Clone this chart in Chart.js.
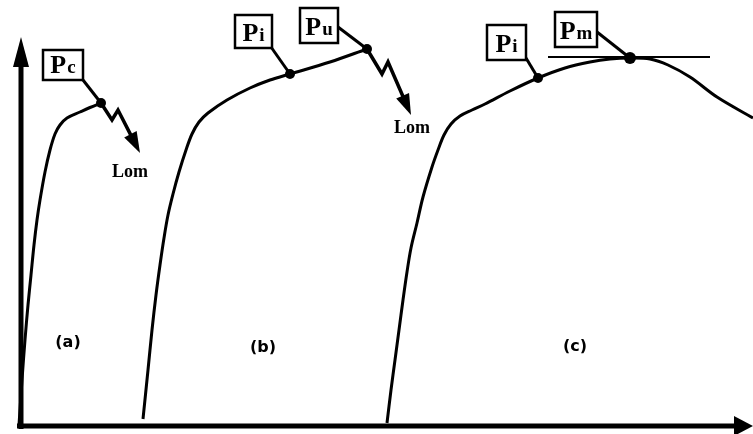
<!DOCTYPE html>
<html>
<head>
<meta charset="utf-8">
<script src="https://cdn.jsdelivr.net/npm/chart.js@4.4.0/dist/chart.umd.min.js"></script>
<style>
  html, body { margin: 0; padding: 0; background: #fff; }
  canvas { display: block; }
</style>
</head>
<body>
<canvas id="myChart" width="753" height="434"></canvas>
<script>
// load / displacement curves, [displacement, load]
var curveA = [[-2,1],[1,46],[4,86],[7,121],[10,151],[13,181],[16,206],[19,226],[24,254],[29,276],[34,292],[39,301],[46,308],[59,314],[69,318.5],[80,323]]
var curveB = [[122,7],[127,56],[131,96],[135,131],[139,161],[143,188],[147,211],[152,232],[158,254],[165,276],[171,292],[178,304],[187,313],[206,326],[229,338],[249,346],[269,352],[309,364],[346,377]]
var curveC = [[366,3],[370,36],[374,66],[378,96],[382,126],[386,154],[390,178],[396,203],[402,229],[411,259],[417,276],[423,291],[430,302],[439,310],[451,316],[464,322],[489,335],[517,348],[544,358],[569,364],[589,367],[609,368],[629,367],[647,361],[669,349],[696,329],[732,308]]

// characteristic loads
var markerSub = ['c', 'i', 'u', 'i', 'm']
var markerX = [80, 269, 346, 517, 609]
var markerY = [323, 352, 377, 348, 368]

// horizontal tangent at the maximum load
var tangentX = [527, 689]
var tangentY = [369, 369]

// curve names
var curveNames = ['(a)', '(b)', '(c)']
var curveNameX = [47, 242, 554]
var curveNameY = [83, 78, 79]

var axisEnd = { x: 732, y: 389 }

// label boxes, pixels relative to the marker: [left, top, width, height, leaderX, leaderY]
var boxes = [
      [-58, -53, 40, 30, -18, -23],
      [-55, -59, 37, 33, -19, -27],
      [-67, -41, 38, 35, -29, -22],
      [-51, -53, 39, 35, -12, -20],
      [-75, -46, 42, 35, -33, -26]
]
// zigzag arrows "Lom" from markers 0 and 2, pixel offsets; last point is the tip
var zigzags = [
      { from: 0, pts: [[11, 17], [17, 7], [39, 50]], text: [29, 69] },
      { from: 2, pts: [[15, 25], [21, 13], [44, 66]], text: [45, 79] }
]

function toPoints(arr) {
      return arr.map(function (p) { return { x: p[0], y: p[1] } })
}

var figureMarks = {
      id: 'figureMarks',
      afterDatasetsDraw: function (chart) {
            var ctx = chart.ctx
            var xs = chart.scales.x, ys = chart.scales.y
            var px = function (v) { return xs.getPixelForValue(v) }
            var py = function (v) { return ys.getPixelForValue(v) }
            ctx.save()
            ctx.fillStyle = '#000'
            ctx.strokeStyle = '#000'
            ctx.lineCap = 'butt'

            // axes with arrow heads
            var ox = px(0), oy = py(0)
            var tipY = py(axisEnd.y), tipX = px(axisEnd.x)
            ctx.lineWidth = 5
            ctx.beginPath()
            ctx.moveTo(ox, oy + 3)
            ctx.lineTo(ox, tipY + 26)
            ctx.moveTo(ox - 4, oy)
            ctx.lineTo(tipX - 16, oy)
            ctx.stroke()
            ctx.beginPath()
            ctx.moveTo(ox, tipY)
            ctx.lineTo(ox - 8, tipY + 30)
            ctx.lineTo(ox + 8, tipY + 30)
            ctx.closePath()
            ctx.fill()
            ctx.beginPath()
            ctx.moveTo(tipX, oy)
            ctx.lineTo(tipX - 19, oy - 10)
            ctx.lineTo(tipX - 19, oy + 10)
            ctx.closePath()
            ctx.fill()

            // boxed labels with leaders
            boxes.forEach(function (b, i) {
                  var mx = px(markerX[i]), my = py(markerY[i])
                  ctx.lineWidth = 3
                  ctx.beginPath()
                  ctx.moveTo(mx + b[4], my + b[5])
                  ctx.lineTo(mx, my)
                  ctx.stroke()
                  ctx.lineWidth = 2.5
                  ctx.fillStyle = '#fff'
                  ctx.fillRect(mx + b[0], my + b[1], b[2], b[3])
                  ctx.strokeRect(mx + b[0], my + b[1], b[2], b[3])
                  ctx.fillStyle = '#000'
                  ctx.textBaseline = 'alphabetic'
                  ctx.textAlign = 'left'
                  var big = 'bold 26px "Liberation Serif"', small = 'bold 19px "Liberation Serif"'
                  ctx.font = big
                  var wP = ctx.measureText('P').width
                  ctx.font = small
                  var wS = ctx.measureText(markerSub[i]).width
                  var x0 = mx + b[0] + (b[2] - wP - wS - 1) / 2
                  var base = my + b[1] + b[3] * 0.78
                  ctx.font = big
                  ctx.fillText('P', x0, base)
                  ctx.font = small
                  ctx.fillText(markerSub[i], x0 + wP + 1, base)
            })

            // zigzag arrows
            zigzags.forEach(function (z) {
                  var mx = px(markerX[z.from]), my = py(markerY[z.from])
                  var tip = z.pts[z.pts.length - 1]
                  var prev = z.pts[z.pts.length - 2]
                  var dx = tip[0] - prev[0], dy = tip[1] - prev[1]
                  var len = Math.sqrt(dx * dx + dy * dy)
                  var ux = dx / len, uy = dy / len
                  var hl = 21, hw = 7
                  var bx = mx + tip[0] - ux * hl, by = my + tip[1] - uy * hl
                  ctx.lineWidth = 3.5
                  ctx.lineJoin = 'miter'
                  ctx.beginPath()
                  ctx.moveTo(mx, my)
                  for (var k = 0; k < z.pts.length - 1; k++) {
                        ctx.lineTo(mx + z.pts[k][0], my + z.pts[k][1])
                  }
                  ctx.lineTo(bx + ux * 2, by + uy * 2)
                  ctx.stroke()
                  ctx.beginPath()
                  ctx.moveTo(mx + tip[0], my + tip[1])
                  ctx.lineTo(bx - uy * hw, by + ux * hw)
                  ctx.lineTo(bx + uy * hw, by - ux * hw)
                  ctx.closePath()
                  ctx.fill()
                  ctx.font = 'bold 18px "Liberation Serif"'
                  ctx.textAlign = 'center'
                  ctx.textBaseline = 'middle'
                  ctx.fillText('Lom', mx + z.text[0], my + z.text[1])
            })

            // curve names
            ctx.font = 'bold 16px "DejaVu Sans"'
            ctx.textAlign = 'center'
            ctx.textBaseline = 'middle'
            curveNames.forEach(function (n, i) {
                  ctx.fillText(n, px(curveNameX[i]), py(curveNameY[i]))
            })
            ctx.restore()
      }
}

var lineStyle = {
      showLine: true,
      borderColor: '#000',
      borderWidth: 3,
      pointRadius: 0,
      fill: false,
      tension: 0.35
}

var ctx = document.getElementById('myChart')
var myChart = new Chart(ctx, {
      type: 'scatter',
      data: {
            datasets: [
                  Object.assign({ label: 'a', data: toPoints(curveA) }, lineStyle),
                  Object.assign({ label: 'b', data: toPoints(curveB) }, lineStyle),
                  Object.assign({ label: 'c', data: toPoints(curveC) }, lineStyle),
                  {
                        label: 'tangent',
                        data: tangentX.map(function (v, i) { return { x: v, y: tangentY[i] } }),
                        showLine: true,
                        borderColor: '#000',
                        borderWidth: 2,
                        pointRadius: 0
                  },
                  {
                        label: 'markers',
                        data: markerX.map(function (v, i) { return { x: v, y: markerY[i] } }),
                        showLine: false,
                        pointRadius: [5, 5, 5, 5, 6],
                        pointBackgroundColor: '#000',
                        pointBorderColor: '#000',
                        pointBorderWidth: 0
                  }
            ]
      },
      options: {
            animation: false,
            responsive: false,
            layout: { padding: 0, autoPadding: false },
            scales: {
                  x: { type: 'linear', min: -21, max: 732, display: false },
                  y: { type: 'linear', min: -8, max: 426, display: false }
            },
            plugins: {
                  legend: { display: false },
                  tooltip: { enabled: false }
            }
      },
      plugins: [figureMarks]
})
</script>
</body>
</html>
